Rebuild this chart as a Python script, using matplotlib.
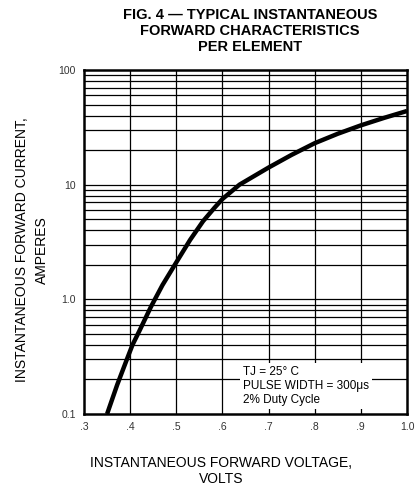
import numpy as np
import matplotlib
matplotlib.use("Agg")
import matplotlib.pyplot as plt
from matplotlib.ticker import FixedLocator, NullFormatter

plt.rcParams['font.family'] = ['Liberation Sans', 'DejaVu Sans']

# forward voltage (V) vs forward current (A)
volts = [0.350, 0.372, 0.393, 0.405, 0.420, 0.445, 0.47, 0.50, 0.53, 0.558,
         0.583, 0.60, 0.637, 0.70, 0.75, 0.80, 0.85, 0.90, 0.95, 1.0]
amps = [0.1, 0.18, 0.3, 0.4, 0.53, 0.86, 1.33, 2.1, 3.3, 4.8,
        6.3, 7.5, 10.0, 14.1, 18.2, 23.0, 27.8, 32.9, 38.2, 43.9]

x_ticks = [0.3, 0.4, 0.5, 0.6, 0.7, 0.8, 0.9, 1.0]
x_labels = [".3", ".4", ".5", ".6", ".7", ".8", ".9", "1.0"]
y_ticks = [0.1, 1.0, 10, 100]
y_labels = ["0.1", "1.0", "10", "100"]

fig = plt.figure(figsize=(4.19, 4.88), dpi=100)
ax = fig.add_axes([84 / 419, 1 - 414 / 488, (407 - 84) / 419, (414 - 70) / 488])

ax.set_yscale('log')
ax.set_xlim(0.3, 1.0)
ax.set_ylim(0.1, 100)

# log grid lines
minor_y = [m * 10.0 ** e for e in (-1, 0, 1) for m in range(2, 10)]
for y in minor_y + [1.0, 10.0]:
    ax.axhline(y, color='black', lw=0.9, zorder=1)
for x in x_ticks[1:-1]:
    ax.axvline(x, color='black', lw=0.9, zorder=1)

ax.plot(volts, amps, color='black', lw=3.2, solid_capstyle='butt',
        solid_joinstyle='round', zorder=3)

ax.set_xticks(x_ticks)
ax.set_xticklabels(x_labels)
ax.yaxis.set_major_locator(FixedLocator(y_ticks))
ax.yaxis.set_minor_locator(FixedLocator(minor_y))
ax.yaxis.set_minor_formatter(NullFormatter())
ax.set_yticklabels(y_labels)
ax.tick_params(which='both', length=0, labelsize=7.5, labelcolor='#333333', pad=6)

for s in ax.spines.values():
    s.set_linewidth(1.8)

ax.text(0.645, 0.175, "TJ = 25° C\nPULSE WIDTH = 300μs\n2% Duty Cycle",
        fontsize=8.5, va='center', ha='left', linespacing=1.25, zorder=4,
        bbox=dict(facecolor='white', edgecolor='none', pad=2))

fig.text(250 / 419, 1 - 31 / 488,
         "FIG. 4 — TYPICAL INSTANTANEOUS\nFORWARD CHARACTERISTICS\nPER ELEMENT",
         ha='center', va='center', fontsize=10.5, fontweight='bold', linespacing=1.15)

fig.text(221 / 419, 1 - 471 / 488, "INSTANTANEOUS FORWARD VOLTAGE,\nVOLTS",
         ha='center', va='center', fontsize=10, linespacing=1.2)

fig.text(32 / 419, 1 - 250 / 488, "INSTANTANEOUS FORWARD CURRENT,\nAMPERES",
         ha='center', va='center', rotation=90, fontsize=10, linespacing=1.5)

fig.savefig("out.png", dpi=100)
